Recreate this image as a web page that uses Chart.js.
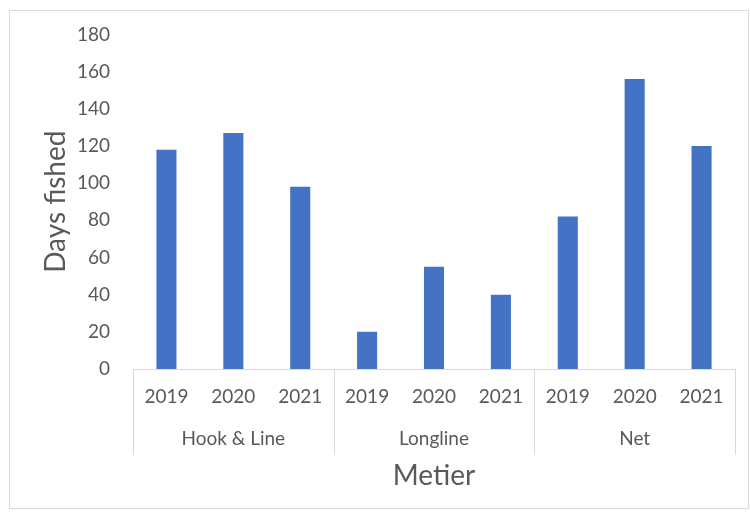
<!DOCTYPE html>
<html>
<head>
<meta charset="utf-8">
<script src="https://cdn.jsdelivr.net/npm/chart.js@4/dist/chart.umd.min.js"></script>
<style>
  html, body { margin: 0; padding: 0; background: #fff; }
  #wrap { position: relative; width: 750px; height: 515px; }
  #frame { position: absolute; left: 9px; top: 10px; width: 740px; height: 499px; border: 1px solid #d9d9d9; box-sizing: border-box; }
  canvas { position: absolute; left: 0; top: 0; }
</style>
</head>
<body>
<div id="wrap">
  <div id="frame"></div>
  <canvas id="chartBar" width="750" height="515"></canvas>
</div>
<script>
// data
const metiers = ['Hook & Line', 'Longline', 'Net'];
const years = ['2019', '2020', '2021'];
const hookLine = [118, 127, 98];
const longline = [20, 55, 40];
const net = [82, 156, 120];
const yTicks = [0, 20, 40, 60, 80, 100, 120, 140, 160, 180];

const labels = [];
metiers.forEach(() => years.forEach(y => labels.push(y)));
const values = hookLine.concat(longline, net);

const textColor = '#595959';
const lineColor = '#d9d9d9';
const fontFamily = 'Lato, "Open Sans", sans-serif';

// vertical separators between the metier groups, running under both label rows
const groupLines = {
    id: 'groupLines',
    afterDraw(chart) {
        const x = chart.scales.x;
        const x2 = chart.scales.x2;
        const ctx = chart.ctx;
        const cw = x.getPixelForValue(1) - x.getPixelForValue(0);
        ctx.save();
        ctx.strokeStyle = lineColor;
        ctx.lineWidth = 1;
        for (let g = 0; g <= metiers.length; g++) {
            const px = Math.round(x.getPixelForValue(g * years.length) - cw / 2) + 0.5;
            ctx.beginPath();
            ctx.moveTo(px, x.top);
            ctx.lineTo(px, x2.top + 42);
            ctx.stroke();
        }
        ctx.restore();
    }
};

const ctx = document.getElementById('chartBar').getContext('2d');
new Chart(ctx, {
    type: 'bar',
    data: {
        labels: labels,
        datasets: [{
            label: 'Days fished',
            data: values,
            backgroundColor: '#4472C4',
            barPercentage: 0.3,
            categoryPercentage: 1
        }]
    },
    options: {
        responsive: false,
        animation: false,
        layout: { padding: { top: 33, right: 15, bottom: 0, left: 0 } },
        plugins: {
            legend: { display: false },
            tooltip: { enabled: false }
        },
        scales: {
            y: {
                min: 0,
                max: 180,
                afterBuildTicks: s => { s.ticks = yTicks.map(v => ({ value: v })); },
                afterFit: s => { s.width = 133; },
                grid: { display: false, drawTicks: false },
                border: { display: false },
                ticks: { color: textColor, padding: 23, font: { family: fontFamily, size: 19 } },
                title: {
                    display: true,
                    text: 'Days fished',
                    color: textColor,
                    padding: { top: 39, bottom: 0 },
                    font: { family: fontFamily, size: 28 }
                }
            },
            x: {
                weight: 0,
                afterFit: s => { s.height = 44; },
                grid: { display: false, drawTicks: false },
                border: { display: true, color: lineColor, width: 1 },
                ticks: { color: textColor, padding: 16, maxRotation: 0, autoSkip: false, font: { family: fontFamily, size: 19 } }
            },
            x2: {
                type: 'category',
                labels: metiers,
                position: 'bottom',
                weight: 1,
                offset: true,
                afterFit: s => { s.height = 102; },
                grid: { display: false, drawTicks: false },
                border: { display: false },
                ticks: { color: textColor, padding: 14, maxRotation: 0, font: { family: fontFamily, size: 19 } },
                title: {
                    display: true,
                    text: 'Metier',
                    color: textColor,
                    padding: { top: 0, bottom: 22 },
                    font: { family: fontFamily, size: 28 }
                }
            }
        }
    },
    plugins: [groupLines]
});
</script>
</body>
</html>
